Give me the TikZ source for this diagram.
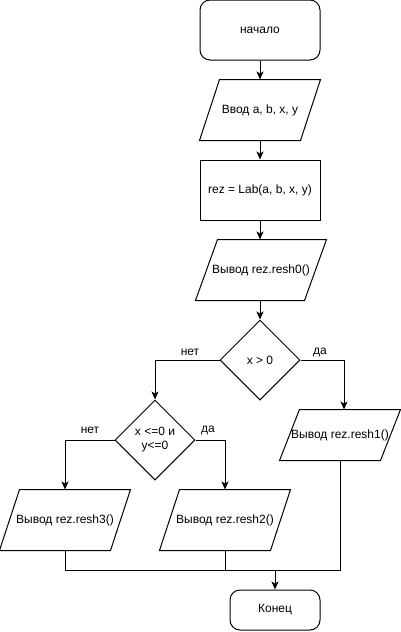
\documentclass[tikz,border=0pt]{standalone}
\usepackage{fontspec}
\setmainfont{Liberation Sans}
\usetikzlibrary{shapes.geometric,arrows.meta}
\tikzset{
  base/.style={draw=black,line width=1pt,font=\fontsize{12}{14}\selectfont,align=center,inner sep=0pt},
  term/.style={base,rounded corners=10pt,minimum width=#1,minimum height=60pt},
  procbox/.style={base,minimum width=120pt,minimum height=60pt},
  paraslot/.style={draw=none,line width=1pt,font=\fontsize{12}{14}\selectfont,align=center,inner sep=0pt},
  decide/.style={base,shape=diamond,aspect=1,minimum width=80pt,minimum height=80pt},
  conn/.style={line width=1pt,-{Stealth[length=8pt,width=7pt,inset=2pt]}},
  plainconn/.style={line width=1pt},
  lbl/.style={font=\fontsize{12}{14}\selectfont,inner sep=0pt}
}
\newcommand{\paraoutline}[2]{%
  \draw[line width=1pt] ([xshift=#2]#1.north west) -- (#1.north east) -- ([xshift=-#2]#1.south east) -- (#1.south west) -- cycle;}
\begin{document}
\begin{tikzpicture}[x=1pt,y=-1pt]
\useasboundingbox (0,0) rectangle (401,632);
\node[term=120pt] (start) at (260,30) {начало};
\node[paraslot,minimum width=120pt,minimum height=60pt] (inp) at (260,110) {Ввод a, b, x, y};
\paraoutline{inp}{20pt}
\node[procbox] (calc) at (260,190) {rez = Lab(a, b, x, y)};
\node[paraslot,minimum width=130pt,minimum height=60pt] (out0) at (261,270) {Вывод rez.resh0()};
\paraoutline{out0}{22pt}
\node[decide] (d1) at (260,360) {x > 0};
\node[paraslot,minimum width=120pt,minimum height=50pt] (out1) at (340,435) {Вывод rez.resh1()};
\paraoutline{out1}{20pt}
\node[decide] (d2) at (155,440) {x <=0 и\\y<=0};
\node[paraslot,minimum width=130pt,minimum height=60pt] (out3) at (65,520) {Вывод rez.resh3()};
\paraoutline{out3}{20pt}
\node[paraslot,minimum width=130pt,minimum height=60pt] (out2) at (225,520) {Вывод rez.resh2()};
\paraoutline{out2}{20pt}
\node[term=90pt,minimum height=40pt] (fin) at (275,610) {Конец};

\draw[conn] (start) -- (inp);
\draw[conn] (inp) -- (calc);
\draw[conn] (calc) -- (out0.north -| calc);
\draw[conn] (out0.south -| d1) -- (d1);
\draw[conn] (d1.west) -| (d2.north);
\draw[conn] (d1.east) -| ([xshift=4pt]out1.north);
\draw[conn] (d2.west) -| (out3.north);
\draw[conn] (d2.east) -| (out2.north);
\coordinate (j) at (fin.north |- 0,570);
\draw[plainconn] (out3.south) |- (j);
\draw[plainconn] (out2.south) |- (j);
\draw[plainconn] (out1.south) |- (j);
\draw[conn] (j) -- (fin);

\node[lbl] (l1) at (190,352) {нет};
\node[lbl] (l2) at (320,352) {да};
\node[lbl] (l3) at (90,430) {нет};
\node[lbl] (l4) at (208,430) {да};
\end{tikzpicture}
\end{document}
